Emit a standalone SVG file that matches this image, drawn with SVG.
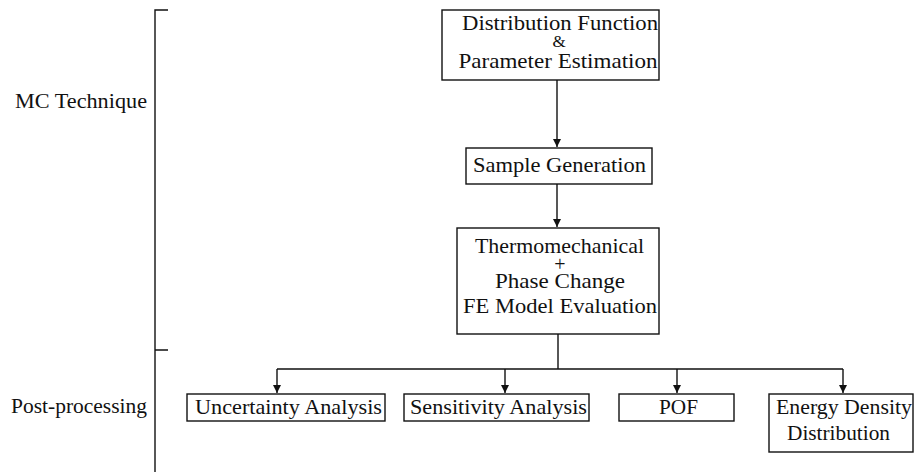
<svg xmlns="http://www.w3.org/2000/svg" width="914" height="472" viewBox="0 0 914 472">
<style>
text{font-family:"Liberation Serif","DejaVu Serif","Noto Serif",serif;font-size:22px;fill:#111;}
.m{text-anchor:middle;}
.s{font-size:17px;}
.p{font-size:20px;}
rect{fill:#fff;stroke:#111;stroke-width:1.4;}
.c{fill:none;stroke:#111;stroke-width:1.4;}
</style>
<defs>
<marker id="ah" markerWidth="8" markerHeight="10" refX="8" refY="4" orient="auto" markerUnits="userSpaceOnUse" viewBox="0 0 8 8">
<path d="M0,0 L8,4 L0,8 Z" fill="#111"/>
</marker>
</defs>
<rect width="914" height="472" style="stroke:none"/>
<g id="bracket">
<path class="c" d="M168,10 H155 V472 M155,350 H168"/>
</g>
<g id="label-mc"><text x="15" y="108" textLength="132" lengthAdjust="spacingAndGlyphs">MC Technique</text></g>
<g id="label-post"><text x="11" y="413" textLength="136" lengthAdjust="spacingAndGlyphs">Post-processing</text></g>
<g id="connectors">
<path class="c" d="M557,80 V147" marker-end="url(#ah)"/>
<path class="c" d="M557,184 V227" marker-end="url(#ah)"/>
<path class="c" d="M558,334 V369 M277,369 H843"/>
<path class="c" d="M277,369 V393" marker-end="url(#ah)"/>
<path class="c" d="M505,369 V393" marker-end="url(#ah)"/>
<path class="c" d="M677,369 V393" marker-end="url(#ah)"/>
<path class="c" d="M843,369 V393" marker-end="url(#ah)"/>
</g>
<g id="dist">
<rect x="442" y="10" width="217" height="70"/>
<text class="m" x="560" y="30" textLength="196" lengthAdjust="spacingAndGlyphs">Distribution Function</text>
<text class="m s" x="559" y="47">&amp;</text>
<text class="m" x="558" y="68" textLength="199" lengthAdjust="spacingAndGlyphs">Parameter Estimation</text>
</g>
<g id="sample">
<rect x="466" y="148" width="186" height="36"/>
<text class="m" x="559.5" y="172" textLength="173" lengthAdjust="spacingAndGlyphs">Sample Generation</text>
</g>
<g id="fe">
<rect x="457" y="228" width="202" height="106"/>
<text class="m" x="559.5" y="253" textLength="169" lengthAdjust="spacingAndGlyphs">Thermomechanical</text>
<text class="m p" x="560" y="271">+</text>
<text class="m" x="560" y="288" textLength="130" lengthAdjust="spacingAndGlyphs">Phase Change</text>
<text class="m" x="560" y="313" textLength="194" lengthAdjust="spacingAndGlyphs">FE Model Evaluation</text>
</g>
<g id="uncertainty">
<rect x="187" y="394" width="198" height="27"/>
<text class="m" x="288.5" y="414" textLength="187" lengthAdjust="spacingAndGlyphs">Uncertainty Analysis</text>
</g>
<g id="sensitivity">
<rect x="404" y="394" width="185" height="27"/>
<text class="m" x="498.5" y="414" textLength="177" lengthAdjust="spacingAndGlyphs">Sensitivity Analysis</text>
</g>
<g id="pof">
<rect x="619" y="394" width="115" height="27"/>
<text class="m" x="678.5" y="414" textLength="39" lengthAdjust="spacingAndGlyphs">POF</text>
</g>
<g id="energy">
<rect x="769" y="394" width="144" height="58"/>
<text class="m" x="844" y="414" textLength="136" lengthAdjust="spacingAndGlyphs">Energy Density</text>
<text class="m" x="838.5" y="440" textLength="103" lengthAdjust="spacingAndGlyphs">Distribution</text>
</g>
</svg>
